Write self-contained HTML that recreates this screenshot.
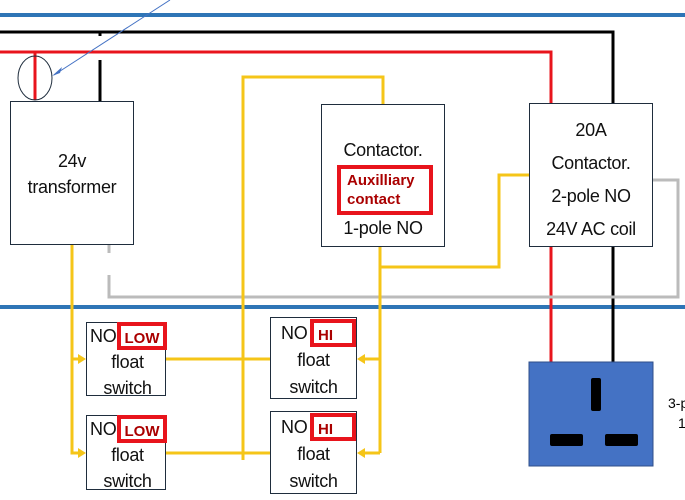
<!DOCTYPE html>
<html><head><meta charset="utf-8"><style>
body{margin:0;background:#fff;width:685px;height:500px;overflow:hidden;position:relative;font-family:"Liberation Sans",sans-serif}
.b{position:absolute;border:1.5px solid #1f2d3d;background:#fff;box-sizing:border-box;text-align:center;color:#111;font-size:18px;line-height:26px;letter-spacing:-0.3px}
.r{display:inline-block;border:4px solid #e8141c;color:#a00;font-weight:bold;font-size:15px;line-height:19px;box-sizing:border-box;letter-spacing:0}
</style></head><body>
<svg width="685" height="500" style="position:absolute;left:0;top:0">
<line x1="0" y1="15" x2="685" y2="15" stroke="#2e75b6" stroke-width="4"/>
<line x1="0" y1="307" x2="685" y2="307" stroke="#2e75b6" stroke-width="4"/>
<polyline points="0,32 613,32 613,362" fill="none" stroke="#000" stroke-width="3"/>
<line x1="100" y1="32" x2="100" y2="36" stroke="#000" stroke-width="3"/>
<line x1="100" y1="60" x2="100" y2="101" stroke="#000" stroke-width="3"/>
<polyline points="0,52 551,52 551,362" fill="none" stroke="#e8141c" stroke-width="3"/>
<line x1="35" y1="52" x2="35" y2="100" stroke="#e8141c" stroke-width="3"/>
<ellipse cx="35" cy="78" rx="17" ry="22" fill="none" stroke="#1f2d3d" stroke-width="1"/>
<line x1="170" y1="0" x2="54" y2="75" stroke="#4472c4" stroke-width="1"/>
<polygon points="52,76 62,67 60,73" fill="#4472c4"/>
<g fill="none" stroke="#bbb" stroke-width="3">
<polyline points="109,243 109,253"/><polyline points="109,275 109,297 678,297 678,180 653,180"/></g>
<g fill="none" stroke="#f5c518" stroke-width="3">
<polyline points="243,460 243,77 383,77 383,104"/>
<polyline points="380,247 380,453"/>
<polyline points="380,267 499,267 499,175 529,175"/>
<polyline points="72,245 72,453 80,453"/>
<line x1="72" y1="359" x2="80" y2="359"/>
<line x1="166" y1="359" x2="270" y2="359"/>
<line x1="166" y1="453" x2="270" y2="453"/>
<line x1="380" y1="359" x2="364" y2="359"/>
<line x1="380" y1="453" x2="364" y2="453"/>
</g>
<g fill="#f5c518">
<polygon points="86,359 78,354 78,364"/><polygon points="86,453 78,448 78,458"/>
<polygon points="357,359 365,354 365,364"/><polygon points="357,453 365,448 365,458"/>
</g>
<rect x="529" y="362" width="124" height="104" fill="#4472c4" stroke="#2f4f8a"/>
<rect x="591" y="378" width="10" height="33" rx="2" fill="#000"/>
<rect x="550" y="434" width="33" height="12" rx="2" fill="#000"/>
<rect x="605" y="434" width="33" height="12" rx="2" fill="#000"/>
<text x="668" y="408" font-size="14" font-family="Liberation Sans">3-p</text>
<text x="678" y="428" font-size="14" font-family="Liberation Sans">1</text>
</svg>
<div class="b" style="left:10px;top:101px;width:124px;height:144px;padding-top:46px">24v<br>transformer</div>
<div class="b" style="left:321px;top:104px;width:124px;height:143px;padding-top:32px">Contactor.<br><span class="r" style="width:96px;height:50px;padding-top:2px;margin:2px 0 0 4px;text-align:left;padding-left:6px">Auxilliary<br>contact</span><br>1-pole NO</div>
<div class="b" style="left:529px;top:103px;width:124px;height:144px;padding-top:10px;line-height:33px">20A<br>Contactor.<br>2-pole NO<br>24V AC coil</div>
<div class="b" style="left:86px;top:322px;width:80px;height:74px;line-height:26px;text-align:left;padding-left:3px">NO<span class="r" style="position:absolute;left:30px;top:-1px;width:50px;height:28px;padding-top:3px;text-align:center">LOW</span><div style="text-align:center">float<br>switch</div></div>
<div class="b" style="left:86px;top:415px;width:80px;height:75px;line-height:26px;text-align:left;padding-left:3px">NO<span class="r" style="position:absolute;left:30px;top:-1px;width:50px;height:28px;padding-top:3px;text-align:center">LOW</span><div style="text-align:center">float<br>switch</div></div>
<div class="b" style="left:270px;top:317px;width:87px;height:82px;line-height:27px;padding-top:2px;text-align:left;padding-left:10px">NO<span class="r" style="position:absolute;left:39px;top:1px;width:46px;height:28px;padding-top:3px;text-align:left;padding-left:4px">HI</span><div style="text-align:center;margin-left:-10px">float<br>switch</div></div>
<div class="b" style="left:270px;top:411px;width:87px;height:83px;line-height:27px;padding-top:2px;text-align:left;padding-left:10px">NO<span class="r" style="position:absolute;left:39px;top:1px;width:46px;height:28px;padding-top:3px;text-align:left;padding-left:4px">HI</span><div style="text-align:center;margin-left:-10px">float<br>switch</div></div>
</body></html>
